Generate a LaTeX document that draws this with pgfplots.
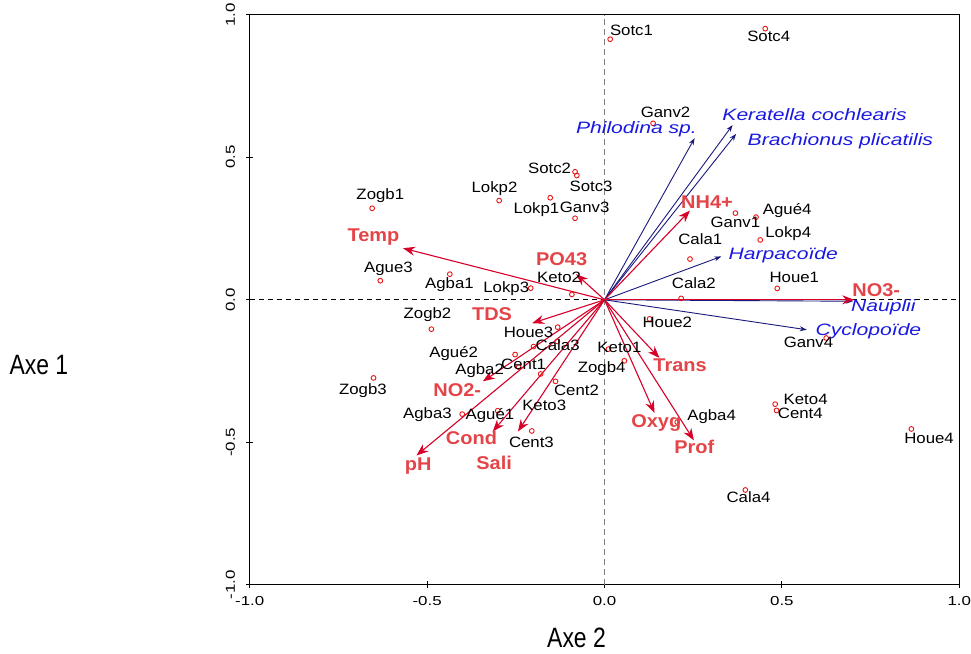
\documentclass[border=0pt]{standalone}
\usepackage{fontspec}
\usepackage{pgfplots}
\usepackage{pgfplotstable}
\pgfplotsset{compat=1.18}
\usetikzlibrary{arrows.meta}
\setmainfont{Liberation Sans}
\newfontfamily\sitef[FakeStretch=1.12]{Liberation Sans}
\newfontfamily\envf[FakeStretch=1.08]{Liberation Sans}
\newfontfamily\spf[FakeStretch=1.28]{Liberation Sans}
\newfontfamily\tickf[FakeStretch=1.3]{Liberation Sans}
\newfontfamily\axef[FakeStretch=0.82]{Liberation Sans}
\definecolor{ptred}{RGB}{235,20,20}
\definecolor{arrred}{RGB}{215,0,40}
\definecolor{labred}{RGB}{228,68,72}
\definecolor{labblue}{RGB}{25,25,225}
\definecolor{arrblue}{RGB}{25,25,125}

\pgfplotstableread{
x y lx ly lab
0.016 0.914 0.076 0.939 Sotc1
0.453 0.951 0.463 0.920 Sotc4
0.137 0.619 0.172 0.652 Ganv2
-0.083 0.449 -0.155 0.456 Sotc2
-0.078 0.436 -0.038 0.394 Sotc3
-0.655 0.321 -0.632 0.365 Zogb1
-0.297 0.348 -0.310 0.389 Lokp2
-0.153 0.358 -0.192 0.315 Lokp1
-0.083 0.286 -0.056 0.319 Ganv3
-0.632 0.067 -0.609 0.109 Ague3
-0.436 0.090 -0.437 0.051 Agba1
-0.208 0.041 -0.277 0.037 Lokp3
-0.092 0.019 -0.128 0.074 Keto2
0.427 0.290 0.515 0.312 Agué4
0.369 0.304 0.369 0.265 Ganv1
0.439 0.210 0.518 0.230 Lokp4
0.241 0.143 0.270 0.207 Cala1
0.487 0.040 0.535 0.074 Houe1
0.216 0.005 0.252 0.054 Cala2
-0.488 -0.103 -0.499 -0.053 Zogb2
-0.132 -0.096 -0.214 -0.119 Houe3
-0.133 -0.146 -0.132 -0.165 Cala3
-0.200 -0.164 -0.425 -0.188 Agué2
-0.252 -0.192 -0.228 -0.230 Cent1
-0.242 -0.236 -0.352 -0.249 Agba2
-0.180 -0.260 -0.170 -0.375 Keto3
-0.138 -0.286 -0.079 -0.322 Cent2
-0.651 -0.274 -0.681 -0.319 Zogb3
-0.401 -0.401 -0.499 -0.403 Agba3
-0.301 -0.389 -0.323 -0.408 Agué1
-0.205 -0.460 -0.206 -0.504 Cent3
0.011 -0.173 0.042 -0.172 Keto1
0.056 -0.214 -0.008 -0.242 Zogb4
0.127 -0.067 0.177 -0.084 Houe2
0.625 -0.134 0.575 -0.154 Ganv4
0.481 -0.366 0.567 -0.356 Keto4
0.485 -0.388 0.552 -0.402 Cent4
0.205 -0.429 0.302 -0.410 Agba4
0.865 -0.453 0.915 -0.491 Houe4
0.397 -0.667 0.406 -0.698 Cala4
}\sites

\pgfplotstableread{
x y u v lx ly lab
0 0 -0.568 0.181 -0.651 0.219 Temp
0 0 -0.080 0.090 -0.121 0.133 PO43
0 0 0.241 0.313 0.289 0.333 NH4+
0 0 0.704 0.000 0.766 0.025 NO3-
0 0 -0.204 -0.082 -0.317 -0.059 TDS
0 0 -0.343 -0.286 -0.415 -0.326 NO2-
0 0 -0.530 -0.546 -0.525 -0.587 pH
0 0 -0.315 -0.462 -0.375 -0.493 Cond
0 0 -0.244 -0.462 -0.311 -0.584 Sali
0 0 0.155 -0.204 0.213 -0.239 Trans
0 0 0.141 -0.397 0.146 -0.435 Oxyg
0 0 0.252 -0.493 0.253 -0.528 Prof
}\envt

\pgfplotstableread{
x y u v lx ly lab
0 0 0.254 0.567 0.090 0.596 {Philodina sp.}
0 0 0.361 0.613 0.592 0.641 {Keratella cochlearis}
0 0 0.371 0.582 0.665 0.554 {Brachionus plicatilis}
0 0 0.329 0.152 0.504 0.154 Harpacoïde
0 0 0.700 -0.005 0.786 -0.028 Nauplii
0 0 0.570 -0.105 0.744 -0.112 Cyclopoïde
}\spt

\begin{document}
\begin{tikzpicture}
\begin{axis}[
  scale only axis, width=710pt, height=570.6pt,
  xmin=-1, xmax=1, ymin=-1, ymax=1,
  xtick={-1,-0.5,0,0.5,1}, xticklabels={-1.0,-0.5,0.0,0.5,1.0},
  ytick={-1,-0.5,0,0.5,1}, yticklabels={-1.0,-0.5,0.0,0.5,1.0},
  xtick pos=bottom, ytick pos=left,
  tick align=center, major tick length=7pt,
  tick style={black, line width=0.9pt},
  axis line style={black, line width=1.1pt},
  xticklabel style={font=\tickf\fontsize{13}{13}\selectfont, inner sep=0pt, anchor=north},
  yticklabel style={font=\tickf\fontsize{13}{13}\selectfont, inner sep=0pt, rotate=90, anchor=south},
  xticklabel shift=8pt, yticklabel shift=11pt,
  xlabel={Axe 2}, ylabel={Axe 1},
  every axis x label/.style={at={(rel axis cs:0.4606,-0.093)}, anchor=center, inner sep=0pt, font=\axef\fontsize{28}{28}\selectfont},
  every axis y label/.style={at={(rel axis cs:-0.2972,0.386)}, anchor=center, inner sep=0pt, font=\axef\fontsize{28}{28}\selectfont},
  clip=false,
  every node near coord/.append style={anchor=center, inner sep=0pt, text height=1.38ex, text depth=0pt},
]
\path (rel axis cs:-0.352,-0.1204) rectangle (rel axis cs:1.0155,1.0258);
\addplot[gray, dash pattern=on 6pt off 4pt, line width=1.3pt, forget plot] coordinates {(0,-1) (0,1)};
\addplot[black, dash pattern=on 5pt off 4pt, line width=1pt, forget plot] coordinates {(-1,0) (1,0)};
% species arrows
\addplot[quiver={u=\thisrow{u},v=\thisrow{v}}, draw=arrblue, line width=0.9pt, -{Stealth[length=7pt,width=5pt]}] table[x=x,y=y]{\spt};
% environment arrows
\addplot[quiver={u=\thisrow{u},v=\thisrow{v}}, draw=arrred, fill=arrred, line width=1.1pt, -{Stealth[length=12pt,width=9pt]}] table[x=x,y=y]{\envt};
% sites
\addplot[only marks, mark=o, mark size=2.4pt, mark options={draw=ptred, line width=0.9pt}] table[x=x,y=y]{\sites};
% labels
\addplot[draw=none, mark=none, nodes near coords, point meta=explicit symbolic,
  nodes near coords style={font=\sitef\fontsize{15}{15}\selectfont, text=black}] table[x=lx,y=ly,meta=lab]{\sites};
\addplot[draw=none, mark=none, nodes near coords, point meta=explicit symbolic,
  nodes near coords style={font=\envf\bfseries\fontsize{18.5}{18.5}\selectfont, text=labred}] table[x=lx,y=ly,meta=lab]{\envt};
\addplot[draw=none, mark=none, nodes near coords, point meta=explicit symbolic,
  nodes near coords style={font=\spf\itshape\fontsize{16.5}{16.5}\selectfont, text=labblue}] table[x=lx,y=ly,meta=lab]{\spt};
\end{axis}
\end{tikzpicture}
\end{document}
